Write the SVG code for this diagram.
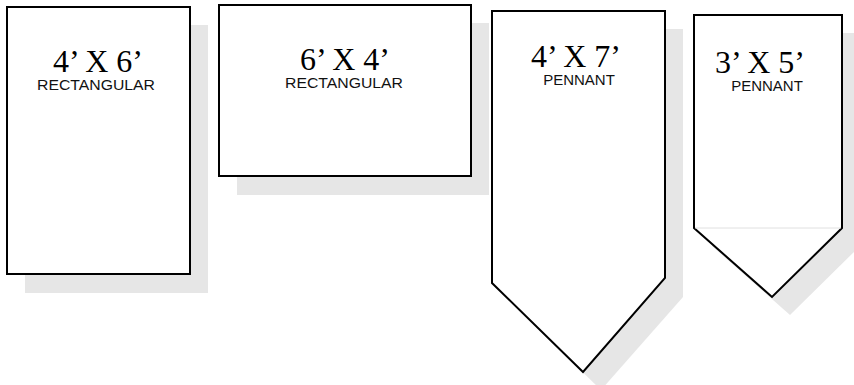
<svg xmlns="http://www.w3.org/2000/svg" width="854" height="385" viewBox="0 0 854 385">
<style>
.shadow{fill:#e6e6e6;stroke:none}
.flag{fill:#fff;stroke:#000;stroke-width:2;stroke-linejoin:miter}
.size{font-family:"Liberation Serif","Times New Roman",serif;font-size:32px;fill:#000;text-anchor:middle}
.kind{font-family:"Liberation Sans",Arial,sans-serif;font-size:15px;fill:#111;text-anchor:middle}
</style>
<rect width="854" height="385" fill="#fff"/>
<g id="flag-4x6">
<rect class="shadow" x="25" y="25" width="183" height="268"/>
<rect class="flag" x="7" y="7" width="183" height="267"/>
<text class="size" x="98" y="72">4’ X 6’</text>
<text class="kind" x="96" y="90" textLength="118" lengthAdjust="spacingAndGlyphs">RECTANGULAR</text>
</g>
<g id="flag-6x4">
<rect class="shadow" x="237" y="23" width="252" height="172"/>
<rect class="flag" x="219" y="5" width="252" height="171"/>
<text class="size" x="345" y="70">6’ X 4’</text>
<text class="kind" x="344" y="88" textLength="118" lengthAdjust="spacingAndGlyphs">RECTANGULAR</text>
</g>
<g id="pennant-4x7">
<polygon class="shadow" points="510,29 683,29 683,297 601,390 510,301"/>
<polygon class="flag" points="492,11 665,11 665,278 583,372 492,283"/>
<text class="size" x="576" y="67">4’ X 7’</text>
<text class="kind" x="579" y="85">PENNANT</text>
</g>
<g id="pennant-3x5">
<polygon class="shadow" points="712,33 860,33 860,246 790,315 712,246"/>
<polygon class="flag" points="694,15 842,15 842,228 772,297 694,228"/>
<line x1="695" y1="228" x2="841" y2="228" stroke="#e0e0e0" stroke-width="1"/>
<text class="size" x="760" y="73">3’ X 5’</text>
<text class="kind" x="767" y="91">PENNANT</text>
</g>
<g id="connectors"/>
</svg>
